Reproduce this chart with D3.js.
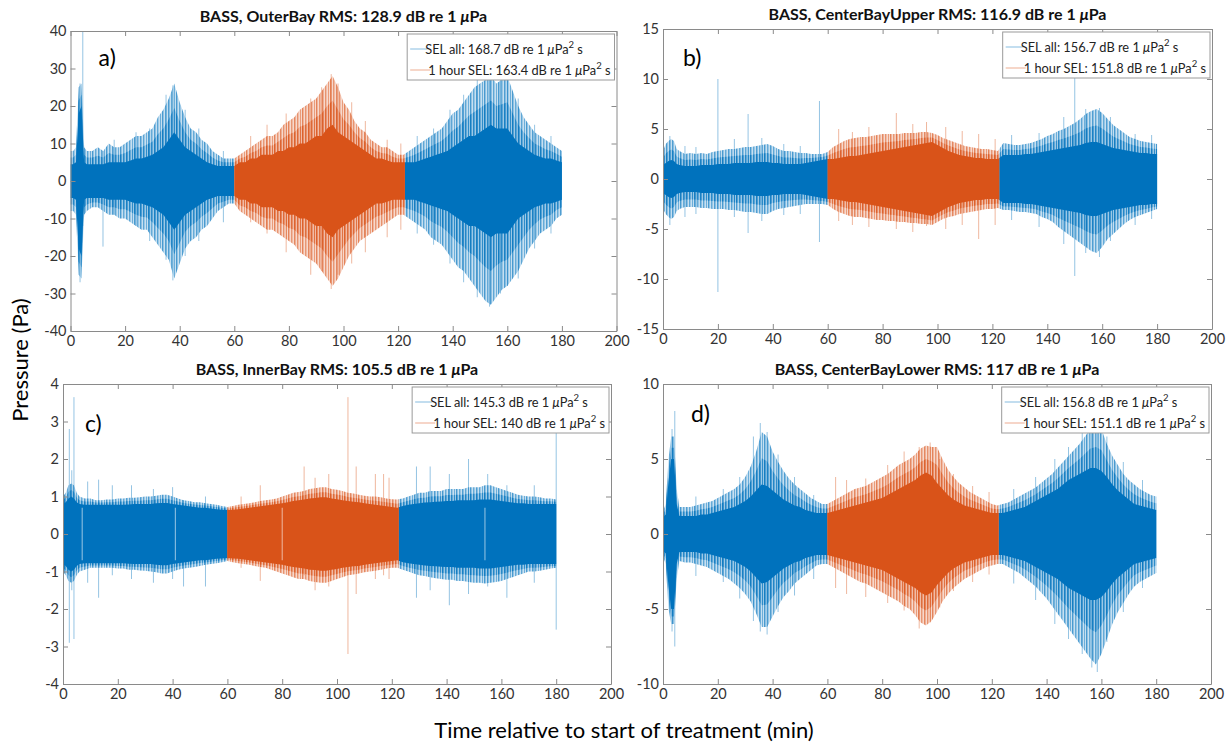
<!DOCTYPE html>
<html>
<head>
<meta charset="utf-8">
<script src="https://cdn.jsdelivr.net/npm/d3@7"></script>
<style>
  body { margin: 0; background: #fff; }
  svg { display: block; font-family: Lato, "Open Sans", sans-serif; }
</style>
</head>
<body>
<svg id="fig" width="1229" height="744"></svg>
<script>
// ---- Time base (minutes relative to start of treatment) ----
const minutes = [0,1,2,3,4,5,6,
  8,10,12,14,16,18,20,22,24,26,28,30,
  32,34,36,38,40,42,44,46,48,50,52,54,56,58,
  60,62,64,66,68,70,72,74,76,78,80,82,84,86,88,90,
  92,94,96,98,100,102,104,106,108,110,112,114,116,118,120,122,
  124,126,128,130,132,134,136,138,140,142,144,146,148,150,
  152,154,156,158,160,162,164,166,168,170,172,174,176,178,180];

// Treatment hour highlighted in the second series
const hourStart = 60;
const hourEnd = 122.5;

// ---- OuterBay: peak envelope (upper / lower) and dense-band half-width, Pa ----
const outerBayHi = [8,8,9,25,26,9,8,
  8,9,8,10,9,9,10,11,12,12,13,14,
  17,19,22,26,21,17,14,13,11,10,8,7,6,6,
  6,7,8,9,10,11,12,12,13,15,16,17,19,20,21,22,
  24,26,28,25,21,19,16,14,13,11,10,9,9,8,7,7,
  8,9,10,11,12,13,14,16,18,19,21,23,25,26,
  27,28,26,27,28,24,20,17,15,13,12,11,10,9,8];
const outerBayLo = [-8,-8,-9,-25,-26,-9,-8,
  -7,-7,-8,-9,-9,-10,-10,-11,-12,-13,-13,-15,
  -17,-19,-21,-26,-22,-18,-16,-15,-13,-12,-10,-8,-7,-6,
  -6,-8,-9,-10,-11,-12,-13,-13,-14,-15,-16,-17,-19,-20,-21,-22,
  -24,-26,-28,-26,-23,-20,-18,-16,-15,-14,-13,-12,-11,-10,-9,-9,
  -10,-11,-12,-13,-15,-16,-17,-19,-21,-23,-24,-26,-28,-30,
  -32,-33,-31,-29,-28,-26,-24,-21,-18,-16,-14,-13,-12,-10,-9];
const outerBayCore = [4.5,4.5,5,18,20,5,4.5,
  4.5,4.5,4.5,5,5,5,5,5.5,6,6,6.5,7,
  8,9,11,13,11,9,8,7,6,5,4.5,4,4,4,
  4,5,5,6,6,7,7,7,8,8,9,9,10,10,11,12,
  12,14,15,13,12,11,10,9,8,7,6,6,5.5,5,5,5,
  5,5,5.5,6,6.5,7,7.5,8,9,10,11,12,12,13,
  14,15,14,14,14,12,10,9,8,7,6.5,6,6,5.5,5];
// isolated excursions: [minute, max, min]
const outerBaySpikes = [[4.5,40,-12],[3.5,26,-27],[11.9,8,-17.5],[16,11,-9],[24,13,-12],[29,14,-16],
  [35,23,-21],[37.5,25.5,-26.5],[42,19,-20],[47,14,-16],[56,8,-11],[66,12,-11],[72,15,-14],
  [79,18,-19],[88,22,-25],[92,25,-24],[95.5,28.5,-28.8],[98,26,-25],[103,21,-22],[108,16,-19],
  [116,11,-15],[121,10,-13],[127,12,-14],[133,14,-17],[139,19,-22],[144,23,-27],[149,27,-31],
  [153.5,30,-33.5],[157.5,28,-30],[160,29,-28],[164,22,-26],[170,15,-18],[176,12,-14]];

// ---- CenterBayUpper ----
const centerUpperHi = [2.8,3.5,3.8,4,3.8,3,2.8,
  2.5,2.6,2.5,2.6,2.5,2.7,2.8,2.9,3,3,3.1,3.2,
  3.2,3.3,3.4,3.5,3.3,3,2.8,2.8,2.7,2.6,2.6,2.5,2.5,2.5,
  2.7,3.2,3.5,3.8,4,4.1,4.2,4.2,4.3,4.4,4.5,4.5,4.5,4.5,4.6,4.6,
  4.6,4.7,4.7,4.6,4.4,4.1,3.9,3.7,3.5,3.3,3.2,3.1,3,3,2.9,2.8,
  3.6,3.5,3.4,3.4,3.5,3.6,3.8,4,4.3,4.5,4.8,5,5.3,5.6,
  6,6.5,6.8,7,6.6,6,5.4,5,4.6,4.2,4,3.8,3.7,3.6,3.5];
const centerUpperLo = [-3,-3.5,-3.8,-4,-3.8,-3.2,-3,
  -2.8,-2.8,-2.8,-2.9,-2.9,-3,-3,-3,-3.1,-3.1,-3.2,-3.3,
  -3.3,-3.4,-3.5,-3.5,-3.2,-3,-2.9,-2.8,-2.7,-2.6,-2.5,-2.5,-2.5,-2.5,
  -2.6,-3,-3.3,-3.5,-3.7,-3.8,-3.8,-3.9,-4,-4.1,-4.1,-4.2,-4.2,-4.3,-4.3,-4.4,
  -4.4,-4.5,-4.5,-4.6,-4.3,-4,-3.8,-3.7,-3.5,-3.4,-3.3,-3.2,-3.1,-3,-3,-2.9,
  -3.1,-3.1,-3.2,-3.3,-3.3,-3.4,-3.5,-3.8,-4,-4.3,-4.8,-5.2,-5.6,-6,
  -6.4,-6.8,-7.2,-7.4,-6.8,-6,-5.5,-5,-4.5,-4.1,-3.8,-3.6,-3.4,-3.2,-3];
const centerUpperCore = [1.4,1.6,1.8,1.9,1.8,1.5,1.4,
  1.3,1.3,1.3,1.4,1.4,1.4,1.5,1.5,1.5,1.6,1.6,1.6,
  1.6,1.7,1.7,1.7,1.6,1.6,1.5,1.5,1.5,1.5,1.6,1.7,1.8,1.9,
  2,2,2.1,2.2,2.3,2.3,2.4,2.5,2.6,2.7,2.8,2.9,3,3.1,3.2,3.3,
  3.4,3.5,3.6,3.7,3.4,3.1,2.8,2.6,2.4,2.3,2.2,2.1,2.1,2,2,2,
  2.4,2.4,2.4,2.4,2.5,2.5,2.6,2.7,2.8,2.9,3,3.1,3.2,3.3,
  3.4,3.6,3.7,3.7,3.5,3.3,3.1,3,2.9,2.8,2.7,2.6,2.6,2.5,2.5];
const centerUpperSpikes = [[2.5,4.3,-4.6],[8,3.3,-3.8],[12,3.2,-3.5],[20,10,-11.3],[26,4,-3.8],
  [31,6.5,-5.4],[36,4.1,-4.2],[44,3.5,-3.6],[50,3.3,-3.5],[57,7.8,-6.3],[64,5,-4.2],[69,4.7,-4.6],
  [75,5.2,-4.8],[85,6.6,-5],[91,5.5,-5.3],[96,5.7,-4.7],[103,5.2,-5],[109,4.8,-4.6],[115,4.5,-6],
  [121,4,-4.6],[127,4.4,-4.1],[137,4.6,-4.8],[146,6.2,-6.5],[150,10.2,-9.7],[154,7,-7.4],
  [159,7.1,-7.8],[163,6.2,-6.2],[172,4.5,-4.6],[178,4.4,-4]];

// ---- InnerBay ----
const innerBayHi = [1.0,1.1,1.3,1.35,1.3,1.1,1.0,
  0.95,0.95,0.9,0.9,0.92,0.92,0.95,0.95,0.97,0.97,0.98,1.0,
  1.0,1.02,1.05,1.05,1.0,0.95,0.9,0.88,0.85,0.85,0.82,0.8,0.78,0.75,
  0.72,0.75,0.78,0.8,0.82,0.85,0.88,0.9,0.92,0.95,1.0,1.05,1.1,1.12,1.15,1.2,
  1.22,1.25,1.25,1.2,1.18,1.15,1.1,1.08,1.05,1.02,1.0,1.0,0.98,0.95,0.93,0.92,
  0.95,1.0,1.05,1.1,1.1,1.15,1.15,1.15,1.2,1.2,1.2,1.2,1.25,1.25,
  1.25,1.3,1.3,1.25,1.2,1.15,1.1,1.05,1.02,1.0,1.0,0.98,0.95,0.95,0.92];
const innerBayLo = [-1.0,-1.1,-1.25,-1.3,-1.25,-1.1,-1.0,
  -0.95,-0.9,-0.9,-0.9,-0.9,-0.9,-0.92,-0.92,-0.95,-0.95,-0.97,-0.98,
  -1.0,-1.02,-1.05,-1.05,-1.0,-0.95,-0.92,-0.9,-0.88,-0.85,-0.82,-0.8,-0.78,-0.75,
  -0.72,-0.75,-0.78,-0.8,-0.82,-0.85,-0.88,-0.9,-0.95,-1.0,-1.05,-1.1,-1.15,-1.2,-1.2,-1.25,
  -1.28,-1.3,-1.3,-1.25,-1.2,-1.15,-1.1,-1.08,-1.05,-1.02,-1.0,-0.98,-0.95,-0.92,-0.9,-0.9,
  -0.95,-1.0,-1.05,-1.1,-1.12,-1.15,-1.18,-1.2,-1.22,-1.22,-1.25,-1.25,-1.28,-1.3,
  -1.3,-1.32,-1.3,-1.28,-1.25,-1.2,-1.15,-1.1,-1.05,-1.0,-1.0,-0.98,-0.95,-0.92,-0.9];
const innerBayCore = [0.8,0.85,0.95,1.0,0.95,0.85,0.8,
  0.78,0.78,0.78,0.78,0.78,0.78,0.78,0.78,0.79,0.8,0.8,0.8,
  0.8,0.82,0.83,0.83,0.8,0.78,0.76,0.74,0.72,0.7,0.7,0.68,0.66,0.65,
  0.64,0.65,0.66,0.68,0.7,0.72,0.74,0.76,0.78,0.8,0.82,0.85,0.88,0.9,0.92,0.95,
  0.96,0.98,0.98,0.95,0.93,0.9,0.88,0.86,0.85,0.82,0.8,0.78,0.76,0.74,0.72,0.7,
  0.75,0.78,0.8,0.82,0.84,0.85,0.86,0.87,0.88,0.88,0.9,0.9,0.9,0.9,
  0.92,0.92,0.92,0.9,0.88,0.86,0.84,0.82,0.82,0.8,0.8,0.8,0.8,0.8,0.8];
const innerBaySpikes = [[2.3,2.8,-2.9],[4,3.65,-2.8],[3.2,1.7,-1.5],[9,1.4,-1.3],[13,1.45,-1.7],
  [18,1.3,-1.1],[25,1.3,-1.2],[33,1.2,-1.3],[40,1.25,-1.2],[44,0.9,-1.4],[52,1.0,-1.4],
  [65,1.0,-0.9],[72,1.3,-1.25],[88,1.8,-1.1],[92,1.5,-1.5],[97,1.6,-1.4],[104,3.65,-3.2],
  [107,1.8,-1.6],[114,1.6,-1.2],[117,1.6,-1.1],[119,1.5,-1.2],[129,1.8,-1.7],[134,1.8,-1.5],
  [141,1.6,-1.9],[148,2.0,-1.6],[155,1.6,-1.4],[162,1.3,-1.7],[172,1.3,-1.3],[180,2.75,-2.55]];
// short recording dropouts seen as white hairlines
const innerBayDropouts = [7, 41, 80, 154];

// ---- CenterBayLower ----
const centerLowerHi = [1.5,2,5,6.5,6.5,3,1.8,
  1.8,1.8,1.9,2.0,2.1,2.2,2.4,2.6,2.8,3.0,3.3,3.8,
  4.5,5.5,6.8,6.5,5.5,4.8,4.2,3.7,3.3,3.0,2.7,2.4,2.2,2.0,
  2.0,2.2,2.4,2.6,2.8,3.0,3.1,3.2,3.4,3.6,3.8,4.0,4.3,4.6,4.8,5.0,
  5.3,5.7,5.9,5.8,5.8,5.0,4.3,3.8,3.4,3.1,2.8,2.6,2.4,2.2,2.0,1.9,
  2.0,2.1,2.3,2.5,2.7,2.9,3.1,3.4,3.7,4.0,4.4,4.8,5.2,5.6,
  6.0,6.5,7.0,7.2,7.0,6.0,5.2,4.6,4.0,3.6,3.3,3.0,2.8,2.6,2.5];
const centerLowerLo = [-1.5,-2,-5,-6,-6,-3,-1.8,
  -1.9,-1.9,-2.0,-2.1,-2.2,-2.4,-2.6,-2.8,-3.0,-3.3,-3.6,-4.0,
  -4.5,-5.3,-6.2,-6.2,-5.5,-4.8,-4.2,-3.8,-3.3,-3.0,-2.7,-2.4,-2.1,-2.0,
  -2.0,-2.2,-2.4,-2.6,-2.8,-3.0,-3.2,-3.3,-3.5,-3.7,-3.9,-4.1,-4.3,-4.5,-4.8,-5.0,
  -5.4,-5.9,-6.1,-5.8,-5.2,-4.5,-4.0,-3.6,-3.3,-3.0,-2.8,-2.6,-2.4,-2.2,-2.1,-2.0,
  -2.0,-2.2,-2.4,-2.6,-2.9,-3.2,-3.5,-3.9,-4.3,-4.8,-5.3,-5.8,-6.3,-6.8,
  -7.3,-7.8,-8.3,-8.7,-8.0,-7.0,-6.0,-5.2,-4.6,-4.0,-3.5,-3.2,-3.0,-2.8,-2.6];
const centerLowerCore = [1.1,1.3,3.5,5,5,2,1.2,
  1.2,1.2,1.2,1.3,1.3,1.4,1.5,1.6,1.7,1.8,2.0,2.2,
  2.5,2.9,3.3,3.2,2.9,2.6,2.3,2.1,1.9,1.8,1.6,1.5,1.4,1.4,
  1.4,1.5,1.6,1.7,1.8,1.9,2.0,2.1,2.2,2.3,2.4,2.6,2.8,3.0,3.2,3.4,
  3.6,3.9,4.1,3.9,3.4,3.0,2.6,2.3,2.1,1.9,1.8,1.7,1.6,1.5,1.4,1.4,
  1.4,1.5,1.6,1.7,1.8,2.0,2.2,2.4,2.6,2.8,3.0,3.3,3.6,3.8,
  4.0,4.2,4.4,4.4,4.2,3.8,3.3,2.9,2.6,2.3,2.0,1.9,1.8,1.7,1.6];
const centerLowerSpikes = [[4.3,8.2,-7.5],[3.3,7,-6.5],[12,2.5,-2.8],[22,3,-3.2],[28,3.8,-4.3],
  [33,6.5,-5.8],[35.5,7.4,-6.5],[38,6.8,-6.7],[42,5.3,-5.2],[48,3.8,-4.1],[55,2.6,-3],
  [63,3.8,-3.6],[67,3.6,-4],[74,3.7,-4.2],[82,4.6,-4.6],[88,5.5,-5.1],[93.5,5.8,-6.3],
  [97.5,6.1,-5.9],[101,5,-4.9],[106,4,-3.8],[113,3.2,-3.2],[119,2.8,-2.7],[128,3,-3.3],
  [136,3.8,-4.4],[143,5,-6],[148,5.8,-7],[153,6.8,-8],[156.5,7.8,-8.9],[158.5,7.5,-9.2],
  [162,6.5,-7.2],[168,4.8,-5.2],[175,3.6,-3.6]];

// ---- Labels ----
const siteNames = ["OuterBay", "CenterBayUpper", "InnerBay", "CenterBayLower"];
const rmsLevels = ["128.9", "116.9", "105.5", "117"];
const selAll = ["168.7", "156.7", "145.3", "156.8"];
const selHour = ["163.4", "151.8", "140", "151.1"];
const panelTags = ["a)", "b)", "c)", "d)"];
const xTicks = [0, 20, 40, 60, 80, 100, 120, 140, 160, 180, 200];
const yDomains = [[-40, 40], [-15, 15], [-4, 4], [-10, 10]];
const yTickSteps = [10, 5, 1, 5];

const series = [
  { hi: outerBayHi, lo: outerBayLo, core: outerBayCore, spikes: outerBaySpikes, dropouts: [] },
  { hi: centerUpperHi, lo: centerUpperLo, core: centerUpperCore, spikes: centerUpperSpikes, dropouts: [] },
  { hi: innerBayHi, lo: innerBayLo, core: innerBayCore, spikes: innerBaySpikes, dropouts: innerBayDropouts },
  { hi: centerLowerHi, lo: centerLowerLo, core: centerLowerCore, spikes: centerLowerSpikes, dropouts: [] }
];

// ---- Layout ----
const frames = [
  { x0: 70.5, x1: 616.5, y0: 31,  y1: 331, tag: [10.3, 33] },
  { x0: 663,  x1: 1212,  y0: 29,  y1: 329, tag: [7.3, 12.2] },
  { x0: 63,   x1: 611,   y0: 384, y1: 684, tag: [8, 2.96] },
  { x0: 663,  x1: 1211,  y0: 384, y1: 684, tag: [10.2, 8.07] }
];

const BLUE = "#0072BD";
const ORANGE = "#D95319";
const AXIS = "#8a8a8a";
const LABEL = "#333";

const svg = d3.select("#fig");
const defs = svg.append("defs");

// hairline texture for the sparse outer part of each trace
const hairOffsets = [0, 1, 3, 4, 6, 8, 9, 11, 12];
const hairAlpha   = [0.85, 0.45, 0.75, 0.3, 0.65, 0.9, 0.4, 0.7, 0.35];
[["hairBlue", BLUE], ["hairOrange", ORANGE]].forEach(([id, color]) => {
  const p = defs.append("pattern").attr("id", id).attr("patternUnits", "userSpaceOnUse")
    .attr("width", 14).attr("height", 20);
  p.append("rect").attr("width", 14).attr("height", 20).attr("fill", color).attr("fill-opacity", 0.22);
  p.selectAll("rect.h").data(hairOffsets).join("rect").attr("class", "h")
    .attr("x", d => d).attr("width", 1).attr("height", 20)
    .attr("fill", color).attr("fill-opacity", (d, i) => hairAlpha[i] * 0.7);
});

series.forEach((s, k) => {
  const f = frames[k];
  const x = d3.scaleLinear().domain([0, 200]).range([f.x0, f.x1]);
  const y = d3.scaleLinear().domain(yDomains[k]).range([f.y1, f.y0]);
  const g = svg.append("g");

  // clip regions: whole record vs. treatment hour
  const plotClip = `plot${k}`, blueClip = `blue${k}`, orangeClip = `orange${k}`;
  defs.append("clipPath").attr("id", plotClip).append("rect")
    .attr("x", f.x0).attr("y", f.y0).attr("width", f.x1 - f.x0).attr("height", f.y1 - f.y0);
  const bc = defs.append("clipPath").attr("id", blueClip);
  bc.append("rect").attr("x", x(0) - 2).attr("y", f.y0).attr("width", x(hourStart) - x(0) + 2).attr("height", f.y1 - f.y0);
  bc.append("rect").attr("x", x(hourEnd)).attr("y", f.y0).attr("width", x(180) - x(hourEnd) + 1).attr("height", f.y1 - f.y0);
  defs.append("clipPath").attr("id", orangeClip).append("rect")
    .attr("x", x(hourStart)).attr("y", f.y0).attr("width", x(hourEnd) - x(hourStart)).attr("height", f.y1 - f.y0);

  const idx = d3.range(minutes.length);
  const outer = d3.area().x(i => x(minutes[i])).y0(i => y(s.lo[i])).y1(i => y(s.hi[i]));
  const mid = d3.area().x(i => x(minutes[i]))
    .y0(i => y((s.lo[i] - s.core[i]) / 2))
    .y1(i => y((s.hi[i] + s.core[i]) / 2));
  const core = d3.area().x(i => x(minutes[i])).y0(i => y(-s.core[i])).y1(i => y(s.core[i]));

  const wave = g.append("g").attr("clip-path", `url(#${plotClip})`);
  [[blueClip, BLUE, "hairBlue", t => t < hourStart || t >= hourEnd],
   [orangeClip, ORANGE, "hairOrange", t => t >= hourStart && t < hourEnd]]
    .forEach(([clip, color, hair, inSeg]) => {
      const layer = wave.append("g").attr("clip-path", `url(#${clip})`);
      layer.append("path").datum(idx).attr("d", outer).attr("fill", `url(#${hair})`);
      layer.append("path").datum(idx).attr("d", mid).attr("fill", `url(#${hair})`);
      layer.selectAll("line.spike").data(s.spikes.filter(d => inSeg(d[0]))).join("line")
        .attr("class", "spike")
        .attr("x1", d => x(d[0])).attr("x2", d => x(d[0]))
        .attr("y1", d => y(d[1])).attr("y2", d => y(d[2]))
        .attr("stroke", color).attr("stroke-opacity", 0.42).attr("stroke-width", 1);
      layer.append("path").datum(idx).attr("d", core).attr("fill", color);
    });
  wave.selectAll("line.gap").data(s.dropouts).join("line")
    .attr("class", "gap")
    .attr("x1", d => x(d)).attr("x2", d => x(d))
    .attr("y1", y(0.7)).attr("y2", y(-0.7))
    .attr("stroke", "#fff").attr("stroke-opacity", 0.6).attr("stroke-width", 1);

  // axes with inward ticks on all four sides
  const [lo, hi] = yDomains[k];
  const yTicks = d3.range(lo, hi + yTickSteps[k] / 2, yTickSteps[k]);
  const fmt = d => String(d);
  const axB = g.append("g").attr("transform", `translate(0,${f.y1})`)
    .call(d3.axisBottom(x).tickValues(xTicks).tickFormat(fmt).tickSizeInner(-5).tickSizeOuter(0).tickPadding(5));
  const axT = g.append("g").attr("transform", `translate(0,${f.y0})`)
    .call(d3.axisTop(x).tickValues(xTicks).tickFormat("").tickSizeInner(-5).tickSizeOuter(0));
  const axL = g.append("g").attr("transform", `translate(${f.x0},0)`)
    .call(d3.axisLeft(y).tickValues(yTicks).tickFormat(fmt).tickSizeInner(-5).tickSizeOuter(0).tickPadding(4));
  const axR = g.append("g").attr("transform", `translate(${f.x1},0)`)
    .call(d3.axisRight(y).tickValues(yTicks).tickFormat("").tickSizeInner(-5).tickSizeOuter(0));
  [axB, axT, axL, axR].forEach(a => {
    a.select(".domain").attr("stroke", AXIS);
    a.selectAll(".tick line").attr("stroke", AXIS);
    a.selectAll(".tick text").attr("fill", LABEL).style("font-size", "14.5px").style("font-family", "Lato, sans-serif");
  });

  // title
  const title = g.append("text")
    .attr("x", (f.x0 + f.x1) / 2).attr("y", f.y0 - 9)
    .attr("text-anchor", "middle").attr("fill", "#111")
    .style("font-size", "16px").style("font-weight", "bold");
  title.append("tspan").text(`BASS, ${siteNames[k]} RMS: ${rmsLevels[k]} dB re 1 `);
  title.append("tspan").style("font-style", "italic").text("\u03bc");
  title.append("tspan").text("Pa");

  // panel tag
  g.append("text").attr("x", x(f.tag[0])).attr("y", y(f.tag[1]))
    .attr("dominant-baseline", "central").attr("fill", "#000")
    .style("font-size", "23px").text(panelTags[k]);

  // legend
  const leg = g.append("g");
  const rows = [
    { color: BLUE, label: `SEL all: ${selAll[k]} dB re 1 `, indent: 18 },
    { color: ORANGE, label: `1 hour SEL: ${selHour[k]} dB re 1 `, indent: 21 }
  ];
  const box = leg.append("rect").attr("fill", "#fff").attr("stroke", "#9a9a9a").attr("stroke-width", 1);
  let maxW = 0;
  rows.forEach((r, j) => {
    const ty = 15 + j * 21;
    leg.append("line").attr("x1", 3).attr("x2", r.indent + 2).attr("y1", ty).attr("y2", ty)
      .attr("stroke", r.color).attr("stroke-opacity", 0.4).attr("stroke-width", 1.2);
    const t = leg.append("text").attr("x", r.indent).attr("y", ty)
      .attr("dominant-baseline", "central").attr("fill", "#222").style("font-size", "12.8px");
    t.append("tspan").text(r.label);
    t.append("tspan").style("font-style", "italic").text("\u03bc");
    t.append("tspan").text("Pa");
    t.append("tspan").attr("dy", -5).style("font-size", "9.5px").text("2");
    t.append("tspan").attr("dy", 5).text(" s");
    maxW = Math.max(maxW, r.indent + t.node().getComputedTextLength());
  });
  const bw = maxW + 4, bh = 46;
  box.attr("x", 0).attr("y", 0).attr("width", bw).attr("height", bh);
  leg.attr("transform", `translate(${f.x1 - 2 - bw},${f.y0 + 3})`);
});

// shared axis titles
svg.append("text")
  .attr("transform", "translate(19,360) rotate(-90)")
  .attr("text-anchor", "middle").attr("dominant-baseline", "central")
  .attr("fill", "#000").style("font-size", "22px").text("Pressure (Pa)");
svg.append("text")
  .attr("x", 624).attr("y", 729)
  .attr("text-anchor", "middle").attr("dominant-baseline", "central")
  .attr("fill", "#000").style("font-size", "22px").text("Time relative to start of treatment (min)");
</script>
</body>
</html>
